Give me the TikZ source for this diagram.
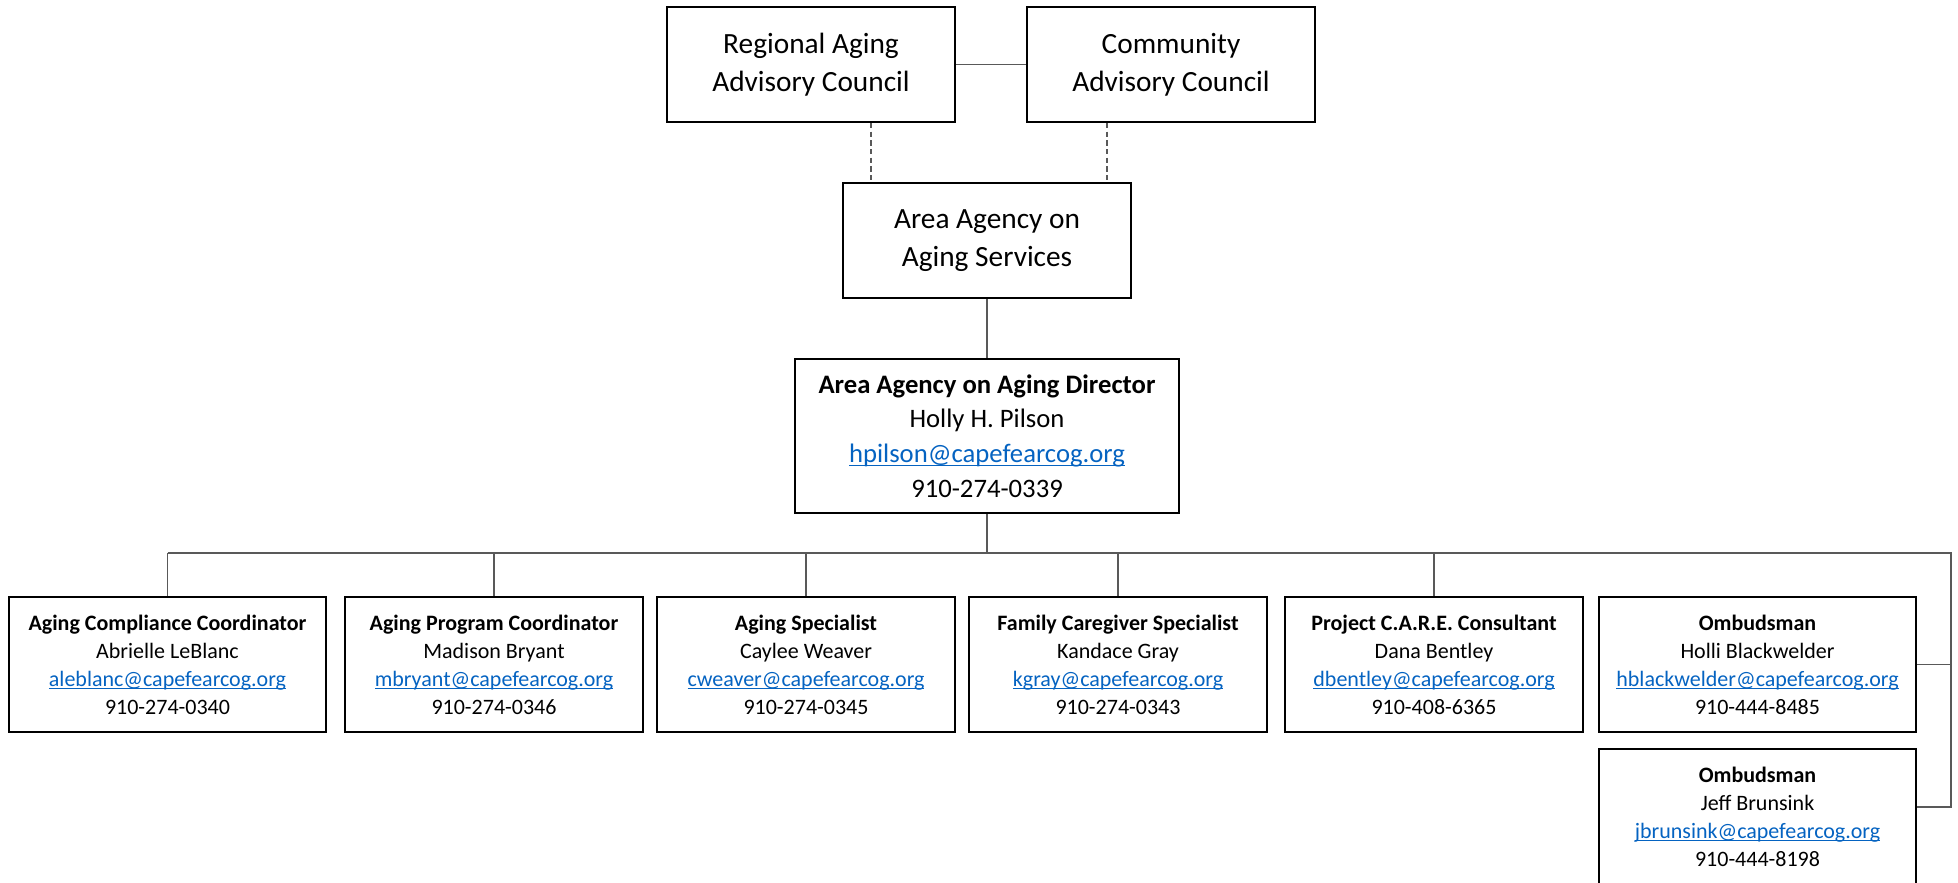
\documentclass[tikz,border=0pt]{standalone}
\usepackage{fontspec}
\setmainfont{Carlito}
\usepackage{tikz}
\usetikzlibrary{calc}
\definecolor{linkblue}{HTML}{0563C1}
\definecolor{wire}{HTML}{595959}
\newcommand{\mail}[1]{\textcolor{linkblue}{\setbox0\hbox{#1}\rlap{\rule[-0.14em]{\wd0}{0.065em}}\box0}}
\tikzset{box/.style={shape=rectangle, draw, line width=1.5pt, inner sep=0pt,
    align=center}}
\tikzset{council/.style={box, minimum width=216pt, minimum height=86.25pt,
    font=\fontsize{22}{28.5}\selectfont}}
\tikzset{staff/.style={box, minimum width=223.5pt, minimum height=101.25pt,
    font=\fontsize{16.5}{21}\selectfont}}
\tikzset{wide/.style={staff, minimum width=237.75pt}}
\tikzset{link/.style={draw=wire, line width=1.1pt}}
\tikzset{dotted link/.style={link, dash pattern=on 4pt off 2.5pt}}

\begin{document}
\begin{tikzpicture}[x=.75pt,y=-.75pt]
    \useasboundingbox (0,0) rectangle (1958,882);
    \node[council] (reg) at (811,64.5) {Regional Aging\\Advisory Council};
    \node[council] (com) at (1171,64.5) {Community\\Advisory Council};
    \node[council] (svc) at (987,240.5) {Area Agency on\\Aging Services};
    \node[box, minimum width=288pt, minimum height=115.5pt,
      font=\fontsize{20}{26}\selectfont] (dir) at (987,436)
      {\textbf{Area Agency on Aging Director}\\Holly H. Pilson\\
      \mail{hpilson@capefearcog.org}\\910-274-0339};
    \node[wide] (acc) at (167.5,664.5) {\textbf{Aging Compliance Coordinator}\\
      Abrielle LeBlanc\\\mail{aleblanc@capefearcog.org}\\910-274-0340};
    \node[staff] (apc) at (494,664.5) {\textbf{Aging Program Coordinator}\\
      Madison Bryant\\\mail{mbryant@capefearcog.org}\\910-274-0346};
    \node[staff] (spec) at (806,664.5) {\textbf{Aging Specialist}\\
      Caylee Weaver\\\mail{cweaver@capefearcog.org}\\910-274-0345};
    \node[staff] (fcs) at (1118,664.5) {\textbf{Family Caregiver Specialist}\\
      Kandace Gray\\\mail{kgray@capefearcog.org}\\910-274-0343};
    \node[staff] (care) at (1434,664.5) {\textbf{Project C.A.R.E. Consultant}\\
      Dana Bentley\\\mail{dbentley@capefearcog.org}\\910-408-6365};
    \node[wide] (omb1) at (1757.5,664.5) {\textbf{Ombudsman}\\
      Holli Blackwelder\\\mail{hblackwelder@capefearcog.org}\\910-444-8485};
    \node[wide] (omb2) at (1757.5,816.5) {\textbf{Ombudsman}\\
      Jeff Brunsink\\\mail{jbrunsink@capefearcog.org}\\910-444-8198};
    \coordinate (busL) at (167.5,553);
    \coordinate (busR) at (1951,553);
    \path[link] (reg) -- (com);
    \path[dotted link] ([xshift=45pt]reg.south) --
      ([xshift=45pt]reg.south |- svc.north);
    \path[dotted link] ([xshift=-48pt]com.south) --
      ([xshift=-48pt]com.south |- svc.north);
    \path[link] (svc) -- (dir);
    \path[link] (dir.south) -- (dir.south |- busL);
    \path[link] (busL) -- (busR) |- ([yshift=7pt]omb2.east);
    \path[link] (busR |- omb1.east) -- (omb1.east);
    \foreach \n in {acc,apc,spec,fcs,care}
      \path[link] (\n.north) -- (\n.north |- busL);
  \end{tikzpicture}
\end{document}
